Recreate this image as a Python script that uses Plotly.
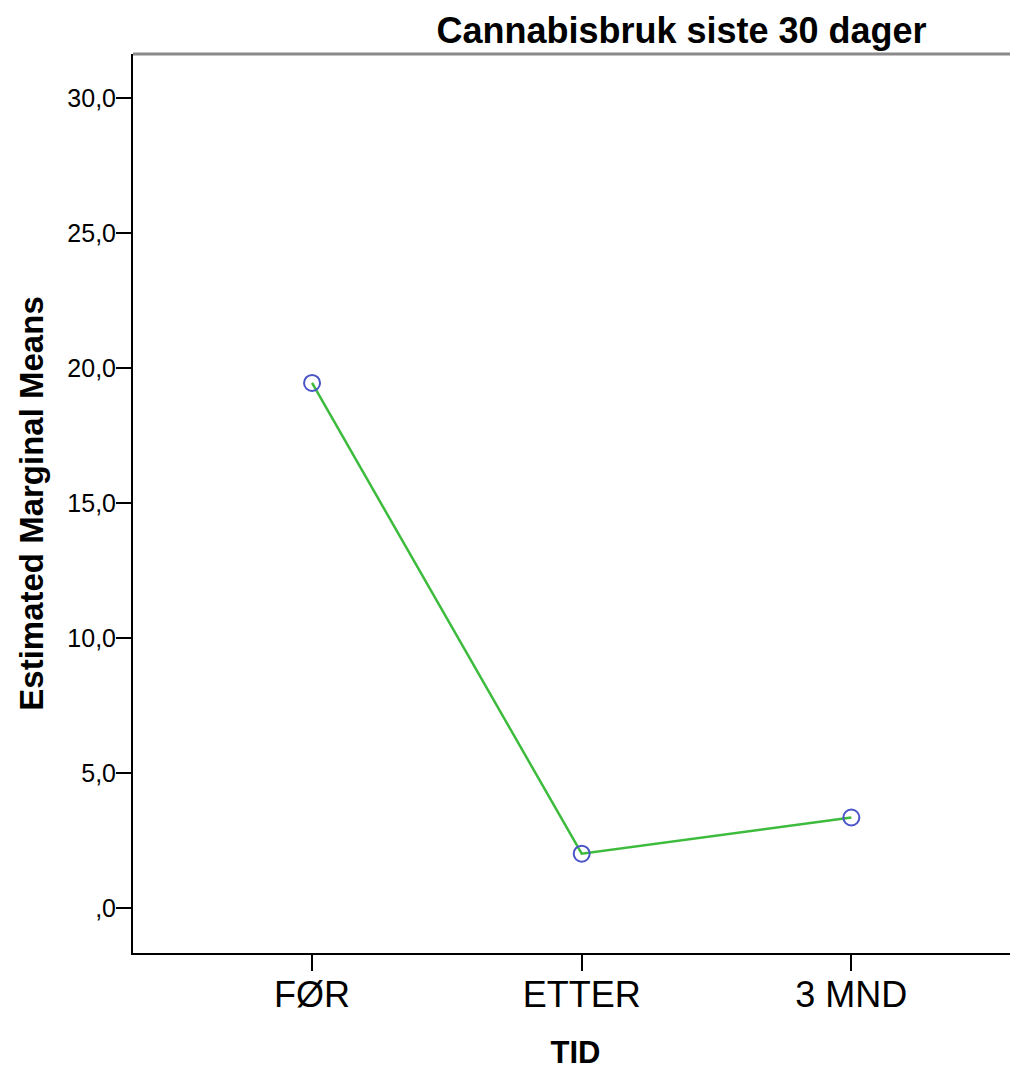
import plotly.graph_objects as go

categories = ["FØR", "ETTER", "3 MND"]
means = [19.44, 2.01, 3.35]
y_tick_vals = [0, 5, 10, 15, 20, 25, 30]
y_tick_text = [",0", "5,0", "10,0", "15,0", "20,0", "25,0", "30,0"]

FONT = "Liberation Sans, Arial, sans-serif"

# page has an 8px body margin; figure sized to fill the rest of the window
W, H = 1010, 1062

fig = go.Figure()
fig.add_trace(go.Scatter(
    x=list(range(len(categories))),
    y=means,
    mode="lines+markers",
    line=dict(color="#3dbb3d", width=2.5),
    marker=dict(symbol="circle-open", size=16, color="#4a55c8",
                line=dict(width=2, color="#4a55c8")),
    showlegend=False,
    cliponaxis=False,
))

fig.update_layout(
    width=W, height=H,
    margin=dict(l=125, r=0, t=46, b=117, pad=0),
    paper_bgcolor="white", plot_bgcolor="white",
    font=dict(family=FONT, color="black"),
    title=dict(text="<b>Cannabisbruk siste 30 dager</b>",
               font=dict(size=36, family=FONT, color="black"),
               x=673.5 / W, xanchor="center", y=1 - 22 / H, yanchor="middle"),
    shapes=[dict(type="line", xref="paper", yref="paper", x0=0, x1=1, y0=1, y1=1,
                 line=dict(color="#8a8a8a", width=3))],
)

fig.update_xaxes(
    range=[-0.664, 2.618],
    tickvals=list(range(len(categories))), ticktext=categories,
    tickfont=dict(size=36, family=FONT, color="black"),
    ticks="outside", ticklen=16, tickwidth=2, tickcolor="black",
    ticklabelstandoff=-7,
    showline=True, linecolor="black", linewidth=2,
    showgrid=False, zeroline=False,
    title=dict(text="<b>TID</b>", font=dict(size=31, family=FONT, color="black"), standoff=28),
)
fig.update_yaxes(
    range=[-1.667, 31.62],
    tickvals=y_tick_vals, ticktext=y_tick_text,
    tickfont=dict(size=25, family=FONT, color="black"),
    ticks="outside", ticklen=15, tickwidth=2, tickcolor="black",
    ticklabelstandoff=-5,
    showline=True, linecolor="black", linewidth=2,
    showgrid=False, zeroline=False,
    title=dict(text="<b>Estimated Marginal Means</b>", font=dict(size=33, family=FONT, color="black"), standoff=14),
)

fig.write_html("out.html")
